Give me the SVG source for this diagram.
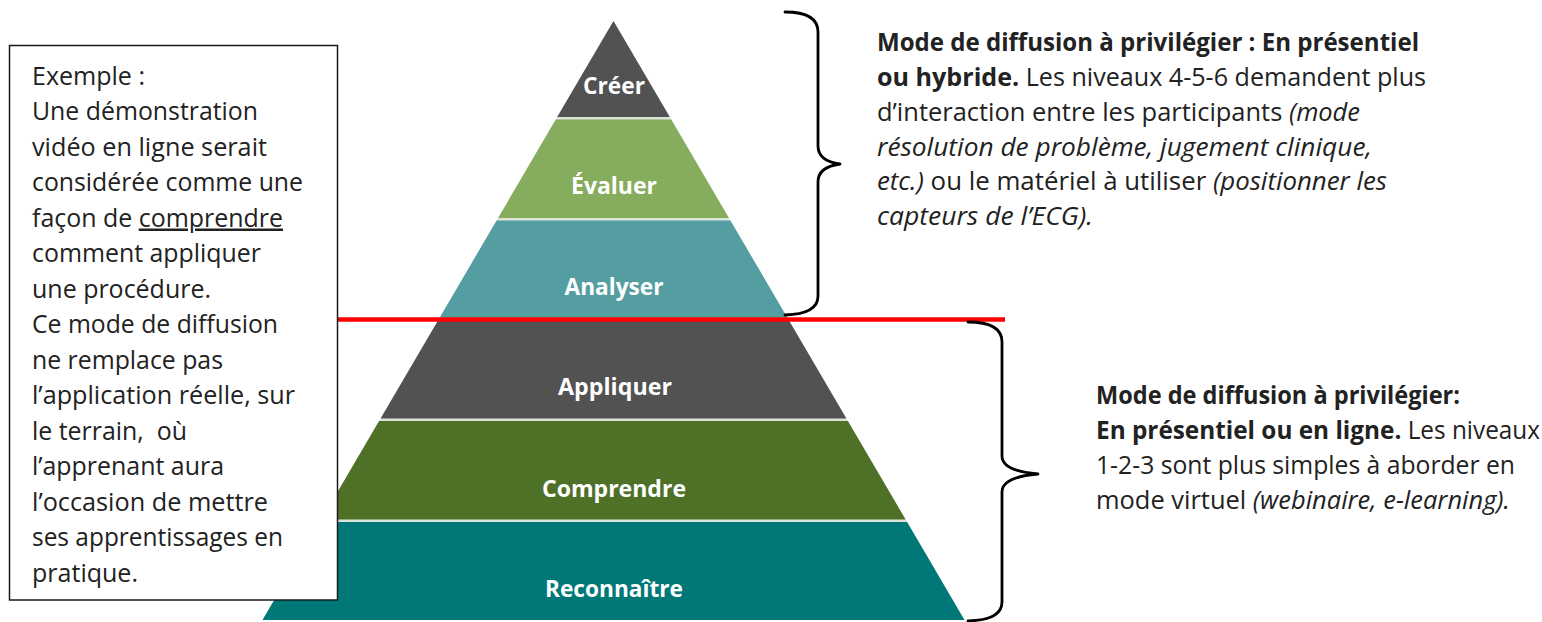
<svg xmlns="http://www.w3.org/2000/svg" width="1542" height="622" viewBox="0 0 1542 622">
<style>
  .lvl-label { font-family: "Open Sans", "Noto Sans", sans-serif; font-weight: 700; font-size: 23px; fill: #ffffff; text-anchor: middle; }
  .body { font-family: "Open Sans", "Noto Sans", sans-serif; font-size: 25px; fill: #222222; }
  .b { font-weight: 700; }
  .i { font-style: italic; }
  .brace { fill: none; stroke: #000000; stroke-width: 2.8; stroke-linejoin: round; stroke-linecap: round; }
</style>
<rect width="1542" height="622" fill="#ffffff"/>

<g id="pyramid">
  <polygon points="613.5,21 964.5,620 262.5,620" fill="#dce4da"/>
  <g id="lvl-creer">
    <polygon points="613.5,21 669.8,117 557.2,117" fill="#525252"/>
    <text class="lvl-label" x="614" y="94" textLength="62" lengthAdjust="spacingAndGlyphs">Créer</text>
  </g>
  <g id="lvl-evaluer">
    <polygon points="555.8,119.5 671.2,119.5 728.9,218 498.1,218" fill="#86ac5e"/>
    <text class="lvl-label" x="614" y="194" textLength="86" lengthAdjust="spacingAndGlyphs">Évaluer</text>
  </g>
  <g id="lvl-analyser">
    <polygon points="496.6,220.5 730.4,220.5 787.5,318 439.5,318" fill="#549ea2"/>
    <text class="lvl-label" x="614" y="295" textLength="99" lengthAdjust="spacingAndGlyphs">Analyser</text>
  </g>
  <g id="lvl-appliquer">
    <polygon points="438.3,320 788.7,320 846.4,418.5 380.6,418.5" fill="#525252"/>
    <text class="lvl-label" x="615" y="395" textLength="114" lengthAdjust="spacingAndGlyphs">Appliquer</text>
  </g>
  <g id="lvl-comprendre">
    <polygon points="379.1,421 847.9,421 905.6,519.5 321.4,519.5" fill="#4e7127"/>
    <text class="lvl-label" x="614" y="497" textLength="144" lengthAdjust="spacingAndGlyphs">Comprendre</text>
  </g>
  <g id="lvl-reconnaitre">
    <polygon points="319.9,522 907.1,522 964.5,620 262.5,620" fill="#007878"/>
    <text class="lvl-label" x="614" y="597" textLength="138" lengthAdjust="spacingAndGlyphs">Reconnaître</text>
  </g>
</g>

<g id="connectors">
  <line id="divider" x1="300" y1="319.5" x2="1005" y2="319.5" stroke="#ff0000" stroke-width="4.5"/>
  <path id="brace-top" class="brace" d="M785,12 Q818,12 818,32 L818,146 Q818,161 840,164 Q818,167 818,182 L818,296 Q818,314 785,315"/>
  <path id="brace-bottom" class="brace" d="M968,322 Q1002,322 1002,342 L1002,456 Q1002,471 1038,474 Q1002,477 1002,492 L1002,602 Q1002,620 968,621"/>
</g>

<g id="example-box">
  <rect x="9.5" y="45.5" width="328" height="554.5" fill="#ffffff" stroke="#1a1a1a" stroke-width="1.5"/>
  <text class="body" x="32" y="84.5" textLength="113" lengthAdjust="spacingAndGlyphs">Exemple :</text>
  <text class="body" x="32" y="120" textLength="226" lengthAdjust="spacingAndGlyphs">Une démonstration</text>
  <text class="body" x="32" y="155.5" textLength="235" lengthAdjust="spacingAndGlyphs">vidéo en ligne serait</text>
  <text class="body" x="32" y="191" textLength="271" lengthAdjust="spacingAndGlyphs">considérée comme une</text>
  <text class="body" x="32" y="226.5" textLength="251" lengthAdjust="spacingAndGlyphs">façon de <tspan text-decoration="underline">comprendre</tspan></text>
  <text class="body" x="32" y="262" textLength="229" lengthAdjust="spacingAndGlyphs">comment appliquer</text>
  <text class="body" x="32" y="297.5" textLength="179" lengthAdjust="spacingAndGlyphs">une procédure.</text>
  <text class="body" x="32" y="333" textLength="246" lengthAdjust="spacingAndGlyphs">Ce mode de diffusion</text>
  <text class="body" x="32" y="368.5" textLength="191" lengthAdjust="spacingAndGlyphs">ne remplace pas</text>
  <text class="body" x="32" y="404" textLength="263" lengthAdjust="spacingAndGlyphs">l’application réelle, sur</text>
  <text class="body" x="32" y="439.5" textLength="155" lengthAdjust="spacingAndGlyphs" xml:space="preserve">le terrain,  où</text>
  <text class="body" x="32" y="475" textLength="192" lengthAdjust="spacingAndGlyphs">l’apprenant aura</text>
  <text class="body" x="32" y="510.5" textLength="236" lengthAdjust="spacingAndGlyphs">l’occasion de mettre</text>
  <text class="body" x="32" y="546" textLength="251" lengthAdjust="spacingAndGlyphs">ses apprentissages en</text>
  <text class="body" x="32" y="581.5" textLength="106" lengthAdjust="spacingAndGlyphs">pratique.</text>
</g>

<g id="note-top">
  <text class="body" x="877" y="51" textLength="542" lengthAdjust="spacingAndGlyphs"><tspan class="b">Mode de diffusion à privilégier : En présentiel</tspan></text>
  <text class="body" x="877" y="86" textLength="549" lengthAdjust="spacingAndGlyphs"><tspan class="b">ou hybride.</tspan> Les niveaux 4-5-6 demandent plus</text>
  <text class="body" x="877" y="120.5" textLength="483" lengthAdjust="spacingAndGlyphs">d’interaction entre les participants <tspan class="i">(mode</tspan></text>
  <text class="body" x="877" y="155.5" textLength="495" lengthAdjust="spacingAndGlyphs"><tspan class="i">résolution de problème, jugement clinique,</tspan></text>
  <text class="body" x="877" y="190" textLength="510" lengthAdjust="spacingAndGlyphs"><tspan class="i">etc.)</tspan> ou le matériel à utiliser <tspan class="i">(positionner les</tspan></text>
  <text class="body" x="877" y="225" textLength="216" lengthAdjust="spacingAndGlyphs"><tspan class="i">capteurs de l’ECG).</tspan></text>
</g>

<g id="note-bottom">
  <text class="body" x="1096" y="404" textLength="364" lengthAdjust="spacingAndGlyphs"><tspan class="b">Mode de diffusion à privilégier:</tspan></text>
  <text class="body" x="1096" y="439" textLength="444" lengthAdjust="spacingAndGlyphs"><tspan class="b">En présentiel ou en ligne.</tspan> Les niveaux</text>
  <text class="body" x="1096" y="474" textLength="419" lengthAdjust="spacingAndGlyphs">1-2-3 sont plus simples à aborder en</text>
  <text class="body" x="1096" y="509" textLength="414" lengthAdjust="spacingAndGlyphs">mode virtuel <tspan class="i">(webinaire, e-learning).</tspan></text>
</g>
</svg>
